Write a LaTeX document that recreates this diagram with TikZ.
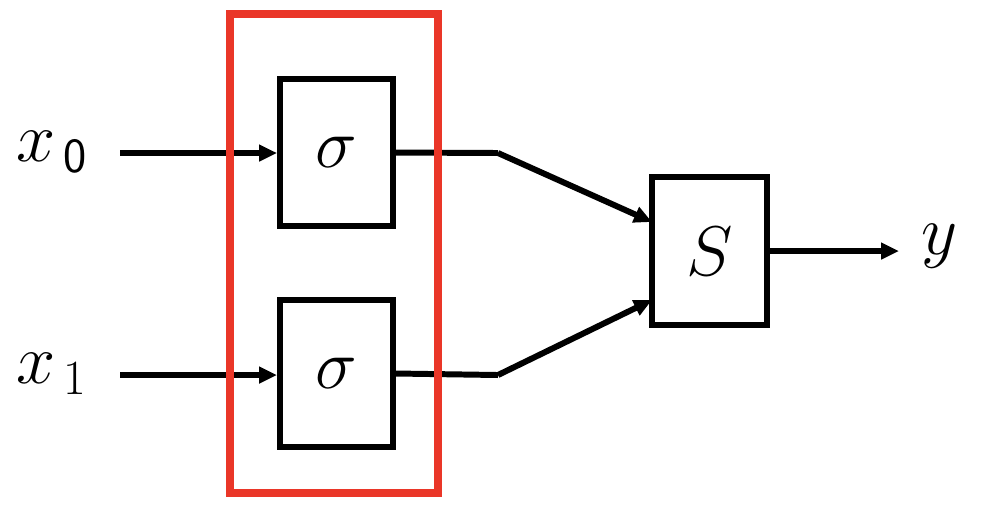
\RequirePackage{fix-cm}
\documentclass[tikz,border=0pt]{standalone}
\usepackage{amsmath}
\usepackage{tikz}
\usepackage{xcolor}
\usetikzlibrary{arrows.meta, positioning, calc}
\definecolor{cLayer}{RGB}{234,54,40}
\newcommand{\subdig}[1]{\text{\fontsize{28}{28}\selectfont #1}}
\tikzset{
	unit/.style ={rectangle, draw=black, line width=3.4pt, minimum width=2.26cm, minimum height=2.94cm, inner sep=0pt},
	label/.style={inner sep=0pt},
	sig/.style  ={-{Triangle[length=0.36cm, width=0.32cm]}, line width=3.4pt},
	wire/.style ={line width=3.4pt},
}

\begin{document}
\begin{tikzpicture}[x=0.02cm, y=-0.02cm, font=\fontsize{40}{48}\selectfont]
	\useasboundingbox (0,0) rectangle (982,512);
	% activation units and summation
	\node[unit] (sig0) at (336.5,152.5) {$\sigma$};
	\node[unit] (sig1) at (336.5,373.5) {$\sigma$};
	\node[unit, minimum width=2.3cm, minimum height=2.96cm] (sum) at (709.5,251) {$S$};
	% inputs and output
	\node[label] (x0) at (52,152) {$x_{\,\subdig{\sffamily 0}}$};
	\node[label] (x1) at (52,374) {$x_{\,\subdig{1}}$};
	\node[label] (y) at (940,246) {$y$};
	\coordinate (in0) at (120,153);
	\coordinate (in1) at (120,375);
	\coordinate (bend0) at (498,153);
	\coordinate (bend1) at (498,375);
	\coordinate (s0) at (652,222);
	\coordinate (s1) at (652,300);
	\coordinate (out) at (899,251);
	\draw[sig] (in0) -- (in0 -| sig0.west);
	\draw[sig] (in1) -- (in1 -| sig1.west);
	\draw[wire] (sig0.east) -- (bend0);
	\draw[wire] (sig1.east) -- (bend1);
	\draw[sig] (bend0) -- (s0);
	\draw[sig] (bend1) -- (s1);
	\draw[sig] (sum.east) -- (out);
	% the layer box
	\node[draw=cLayer, line width=4.5pt, minimum width=4.16cm, minimum height=9.58cm, inner sep=0pt] (layer) at (334,253.5) {};
\end{tikzpicture}
\end{document}
